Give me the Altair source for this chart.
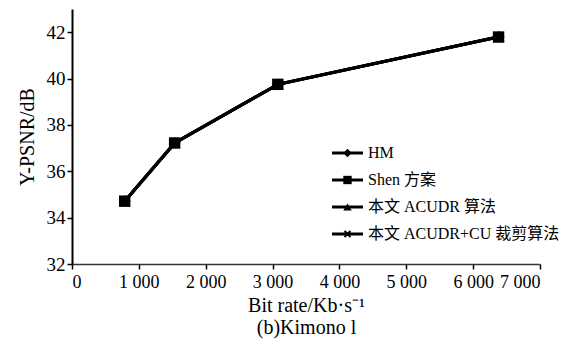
import altair as alt
import pandas as pd

series = ["HM", "Shen 方案", "本文 ACUDR 算法", "本文 ACUDR+CU 裁剪算法"]
bitrate = {
    "HM": [792, 1540, 3084, 6387],
    "Shen 方案": [788, 1535, 3078, 6380],
    "本文 ACUDR 算法": [790, 1538, 3080, 6384],
    "本文 ACUDR+CU 裁剪算法": [786, 1532, 3075, 6375],
}
psnr = {
    "HM": [34.72, 37.23, 39.76, 41.80],
    "Shen 方案": [34.71, 37.22, 39.75, 41.79],
    "本文 ACUDR 算法": [34.72, 37.22, 39.75, 41.80],
    "本文 ACUDR+CU 裁剪算法": [34.70, 37.21, 39.74, 41.79],
}
x_ticks = [0, 1000, 2000, 3000, 4000, 5000, 6000, 7000]
y_ticks = [32, 34, 36, 38, 40, 42]

XCROSS = "M-1,-1L1,1M-1,1L1,-1"
shapes = ["diamond", "square", "triangle-up", XCROSS]
filled = [True, True, True, False]

FONT = "Liberation Serif, Noto Sans CJK SC"

rows = []
for s in series:
    for b, p in zip(bitrate[s], psnr[s]):
        rows.append({"series": s, "bitrate": b, "psnr": p})
df = pd.DataFrame(rows)

xenc = alt.X(
    "bitrate:Q",
    scale=alt.Scale(domain=[0, 7000], nice=False, zero=True),
    axis=alt.Axis(
        values=x_ticks,
        labelExpr="replace(format(datum.value, ','), ',', ' ')",
        title=["Bit rate/Kb·s⁻¹", "(b)Kimono l"],
        grid=False,
    ),
)
yenc = alt.Y(
    "psnr:Q",
    scale=alt.Scale(domain=[32, 43], nice=False, zero=False),
    axis=alt.Axis(values=y_ticks, title="Y-PSNR/dB", grid=False, titlePadding=9),
)

layers = []
for s, shp, f in zip(series, shapes, filled):
    sub = df[df.series == s]
    line = alt.Chart(sub).mark_line(color="black", strokeWidth=3).encode(x=xenc, y=yenc)
    pt = alt.Chart(sub).mark_point(
        shape=shp, filled=f, color="black", size=130 if f else 60,
        strokeWidth=2.5, opacity=1
    ).encode(x=xenc, y=yenc)
    layers += [line, pt]

# manual legend
leg_y0, leg_dy = 144, 27
leg_df = pd.DataFrame({"series": series, "idx": list(range(len(series)))})
for i, (s, shp, f) in enumerate(zip(series, shapes, filled)):
    ly = leg_y0 + i * leg_dy
    d = leg_df[leg_df.idx == i]
    layers.append(
        alt.Chart(d).mark_rule(color="black", strokeWidth=3).encode(
            x=alt.value(260), x2=alt.value(291), y=alt.value(ly)
        )
    )
    layers.append(
        alt.Chart(d).mark_point(
            shape=shp, filled=f, color="black", size=70 if f else 35, strokeWidth=2, opacity=1
        ).encode(x=alt.value(275.5), y=alt.value(ly))
    )
    layers.append(
        alt.Chart(d).mark_text(
            align="left", baseline="middle", font=FONT, fontSize=16, color="black"
        ).encode(x=alt.value(296), y=alt.value(ly), text="series:N")
    )

chart = (
    alt.layer(*layers)
    .properties(
        width=468,
        height=255,
        autosize=alt.AutoSizeParams(type="none"),
        padding={"left": 64, "top": 1, "right": 20, "bottom": 78},
        background="white",
    )
    .configure_view(stroke=None)
    .configure_axis(
        labelFont=FONT,
        titleFont=FONT,
        labelFontSize=19,
        titleFontSize=20,
        titleFontWeight="normal",
        labelColor="black",
        titleColor="black",
        domainColor="black",
        tickColor="black",
        domainWidth=2,
        tickWidth=1.5,
        tickSize=5,
        labelPadding=2,
    )
    .configure_axisX(labelFontSize=18, titleFontSize=20, titleLineHeight=22,
                     titlePadding=4, labelPadding=4,
                     domainWidth=1.5, domainColor="#333333")
)

chart.save("out.html", embed_options={"renderer": "svg", "actions": False})
